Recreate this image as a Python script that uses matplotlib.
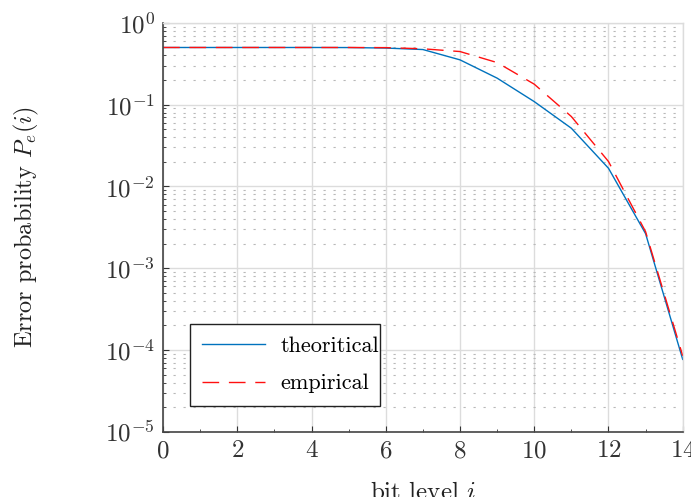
import matplotlib
matplotlib.use("Agg")
import matplotlib.pyplot as plt
import numpy as np
from matplotlib.ticker import LogLocator, MultipleLocator, NullFormatter

plt.rcParams['font.family'] = 'serif'
plt.rcParams['font.serif'] = ['cmr10', 'DejaVu Serif']
plt.rcParams['mathtext.fontset'] = 'cm'
plt.rcParams['axes.formatter.use_mathtext'] = True

# bit levels and error probabilities
bit_level = [0, 1, 2, 3, 4, 5, 6, 7, 8, 9, 10, 11, 12, 13, 14]
theoretical = [0.5, 0.5, 0.5, 0.5, 0.5, 0.499, 0.492, 0.472, 0.353, 0.211,
               0.109, 0.0515, 0.0167, 0.00265, 7.7e-5]
empirical = [0.5, 0.5, 0.5, 0.5, 0.5, 0.5, 0.498, 0.482, 0.446, 0.327,
             0.178, 0.0716, 0.0202, 0.0028, 8.5e-5]

fig = plt.figure(figsize=(6.91, 4.97), dpi=100)
ax = fig.add_axes([0.236, 0.131, 0.752, 0.823])

ax.plot(bit_level, theoretical, color='#0072BD', lw=1.0, label='theoritical')
ax.plot(bit_level, empirical, color='#FF1010', lw=1.0, dashes=(12, 7),
        label='empirical')

ax.set_yscale('log')
ax.set_xlim(0, 14)
ax.set_ylim(1e-5, 1)
ax.xaxis.set_major_locator(MultipleLocator(2))
ax.xaxis.set_minor_locator(MultipleLocator(1))
ax.yaxis.set_major_locator(LogLocator(base=10, numticks=10))
ax.yaxis.set_minor_locator(LogLocator(base=10, subs=np.arange(2, 10), numticks=20))
ax.yaxis.set_minor_formatter(NullFormatter())

ax.grid(which='major', color='#dcdcdc', lw=1.0, ls='-')
ax.grid(which='minor', axis='y', color='#b8b8b8', lw=0.8, ls=(0, (2, 7)))
ax.set_axisbelow(True)

ax.tick_params(which='both', direction='in', top=False, right=False,
               labelsize=18, colors='#333333')
ax.tick_params(which='major', length=4, width=0.8, pad=6)
ax.tick_params(which='minor', length=2, width=0.6)
for s in ['left', 'bottom']:
    ax.spines[s].set_color('#444444')
    ax.spines[s].set_linewidth(1.2)
for s in ['top', 'right']:
    ax.spines[s].set_color('#dcdcdc')
    ax.spines[s].set_linewidth(1.0)

ax.set_xlabel('bit level $i$', fontsize=18, color='#222222', labelpad=14)
ax.set_ylabel('Error probability $P_e(i)$', fontsize=17.5, color='#222222',
              labelpad=46)

leg = ax.legend(loc='lower left', bbox_to_anchor=(0.052, 0.064, 0.365, 0.222),
                mode='expand', fontsize=16, frameon=True, fancybox=False,
                edgecolor='#222222', handlelength=2.8, borderpad=0.55,
                labelspacing=0.8, handletextpad=0.7, borderaxespad=0)
leg.get_frame().set_linewidth(1.0)
leg.get_frame().set_alpha(1)

fig.savefig('out.png', dpi=100)
